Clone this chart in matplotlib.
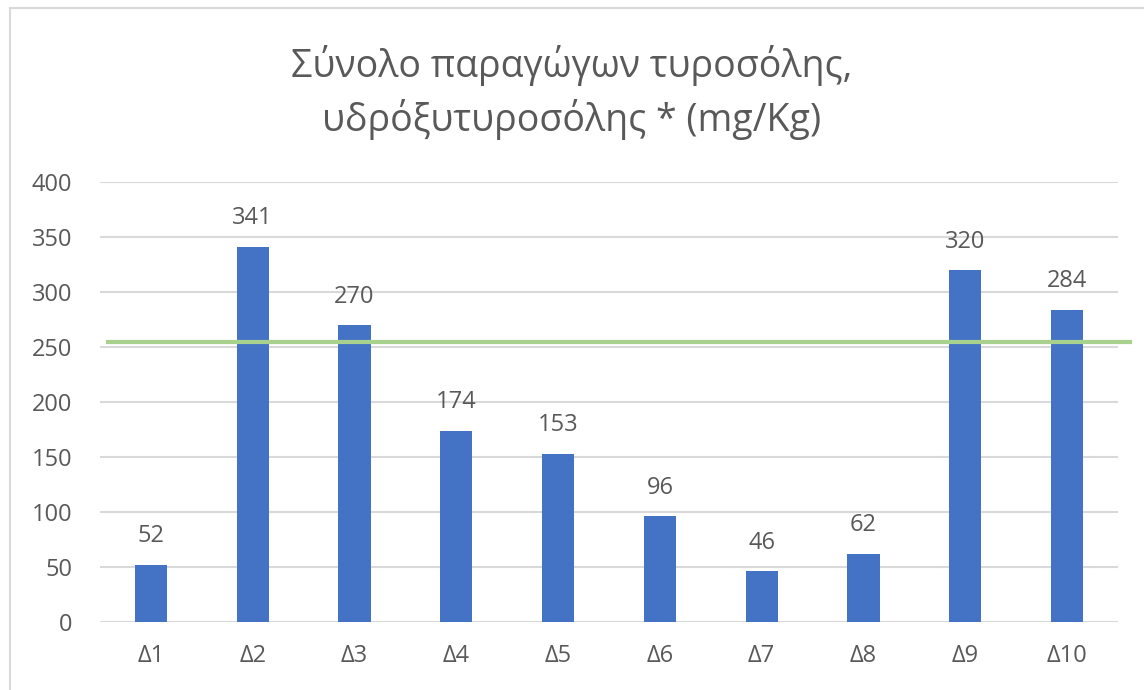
import matplotlib.pyplot as plt
import numpy as np

plt.rcParams['font.family'] = ['Open Sans', 'DejaVu Sans']

# Sampling points and totals (mg/Kg)
labels = ['Δ1', 'Δ2', 'Δ3', 'Δ4', 'Δ5', 'Δ6', 'Δ7', 'Δ8', 'Δ9', 'Δ10']
values = [52, 341, 270, 174, 153, 96, 46, 62, 320, 284]
limit = 255
yticks = [0, 50, 100, 150, 200, 250, 300, 350, 400]

text_col = '#595959'
bar_col = '#4472C4'
grid_col = '#D9D9D9'

fig = plt.figure(figsize=(11.44, 6.9), dpi=100)
ax = fig.add_axes([100 / 1144, 68 / 690, 1018 / 1144, 440 / 690])

x = np.arange(len(labels))
bars = ax.bar(x, values, width=0.315, color=bar_col, zorder=2)
for xi, v in zip(x, values):
    ax.text(xi, v + 15, str(v), ha='center', va='bottom', fontsize=17, color=text_col)

# limit line, runs a bit past the right edge of the plot
ax.axhline(limit, xmin=0.008, xmax=1.012, color='#A9D18E', lw=3, zorder=3, clip_on=False)

ax.set_xlim(-0.5, len(labels) - 0.5)
ax.set_ylim(0, 400)
ax.set_yticks(yticks)
ax.set_xticks(x)
ax.set_xticklabels(labels)
ax.yaxis.grid(True, color=grid_col, lw=1.5)
ax.set_axisbelow(True)
for s in ax.spines.values():
    s.set_visible(False)
ax.tick_params(length=0, labelsize=17, labelcolor=text_col)
ax.tick_params(axis='x', pad=16)
ax.tick_params(axis='y', pad=20)

fig.text(0.5, 0.935, 'Σύνολο παραγώγων τυροσόλης,\nυδρόξυτυροσόλης * (mg/Kg)',
         ha='center', va='top', fontsize=27, color=text_col, linespacing=1.4)

# chart frame
fig.add_artist(plt.Line2D([10 / 1144, 10 / 1144], [0, 1 - 8 / 690], color='#D9D9D9', lw=1.5))
fig.add_artist(plt.Line2D([10 / 1144, 1], [1 - 8 / 690, 1 - 8 / 690], color='#D9D9D9', lw=1.5))

fig.savefig('out.png', dpi=100)
